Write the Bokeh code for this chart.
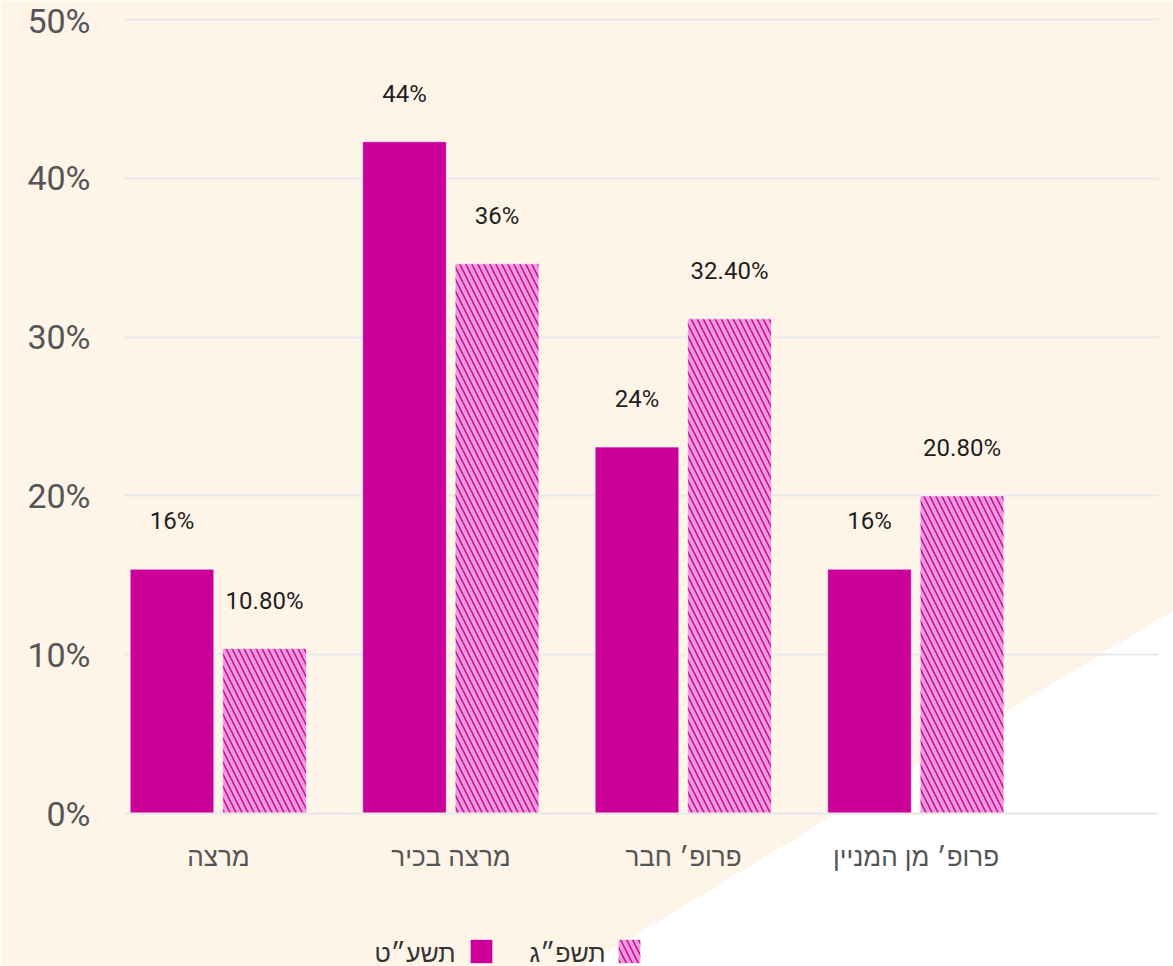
from bokeh.plotting import figure
from bokeh.models import (Range1d, FixedTicker, ColumnDataSource, PolyAnnotation,
                          Legend, LegendItem, Label)
from bokeh.transform import dodge
from bokeh.core.properties import value
from bokeh.embed import file_html
from bokeh.resources import INLINE

# ---------------- data ----------------
categories = ["מרצה", "מרצה בכיר", "פרופ׳ חבר", "פרופ׳ מן המניין"]
series_names = ["תשע״ט", "תשפ״ג"]
values_a = [16, 44, 24, 16]
values_b = [10.8, 36, 32.4, 20.8]
labels_a = ["16%", "44%", "24%", "16%"]
labels_b = ["10.80%", "36%", "32.40%", "20.80%"]
y_ticks = [0, 10.4, 20.8, 31.2, 41.6, 52]
y_tick_labels = ["0%", "10%", "20%", "30%", "40%", "50%"]

# ---------------- style ----------------
CREAM = "#fef4e8"
MAGENTA = "#cc0099"
PINK = "#ec9ad8"
GRID = "#e9e9e9"
NUM_FONT = "Roboto, 'Liberation Sans', sans-serif"
HEB_FONT = "'Liberation Sans', Arial, sans-serif"

idx = list(range(len(categories)))
src_a = ColumnDataSource(dict(idx=idx, val=values_a, lbl=labels_a))
src_b = ColumnDataSource(dict(idx=idx, val=values_b, lbl=labels_b))

p = figure(width=1173, height=966, output_backend="svg", toolbar_location=None,
           x_range=Range1d(-0.4086, 4.1075), y_range=Range1d(-10.02, 52.59),
           min_border_left=123, min_border_right=0, min_border_top=10,
           min_border_bottom=0)
p.background_fill_color = CREAM
p.border_fill_color = CREAM
p.outline_line_color = None

# white triangle in the lower right corner (decoration, frame-relative px)
p.add_layout(PolyAnnotation(xs=[1127, 397, 1127], ys=[402.5, -38, -38],
                            xs_units="screen", ys_units="screen",
                            fill_color="white", fill_alpha=1, line_color=None,
                            level="image"))
# cover the gridline ends beyond the chart's right end
p.add_layout(PolyAnnotation(xs=[1035, 1057, 1057, 1035], ys=[990, 990, 360, 347],
                            xs_units="screen", ys_units="screen",
                            fill_color=CREAM, fill_alpha=1, line_color=None,
                            level="guide"))
p.add_layout(PolyAnnotation(xs=[1035, 1057, 1057, 1035], ys=[347, 360, -34, -34],
                            xs_units="screen", ys_units="screen",
                            fill_color="white", fill_alpha=1, line_color=None,
                            level="guide"))

r1 = p.vbar(x=dodge("idx", -0.2, range=p.x_range), top="val", width=0.36,
            source=src_a, fill_color=MAGENTA, line_color="white", line_width=1,
            line_alpha=0.6)
r2 = p.vbar(x=dodge("idx", 0.198, range=p.x_range), top="val", width=0.36,
            source=src_b, fill_color=PINK, hatch_pattern="\\", hatch_color=MAGENTA,
            hatch_scale=12, hatch_weight=1.4, line_color="white", line_width=1,
            line_alpha=0.6)

for off, src in ((-0.2, src_a), (0.198, src_b)):
    p.text(x=dodge("idx", off, range=p.x_range), y="val", text="lbl", source=src,
           text_align="center", text_baseline="alphabetic", y_offset=-48,
           text_font=value(NUM_FONT), text_font_size="24px", text_color="#1e1e1e")

# axes
p.xaxis.fixed_location = 0
p.xaxis.bounds = (-0.4086, 4.043)
p.xaxis.ticker = FixedTicker(ticks=idx)
p.xaxis.major_label_overrides = {i: c for i, c in zip(idx, categories)}
p.xaxis.major_label_text_font = HEB_FONT
p.xaxis.major_label_text_font_size = "26px"
p.xaxis.major_label_text_color = "#555555"
p.xaxis.major_label_standoff = 22
p.xaxis.major_tick_line_color = None
p.xaxis.minor_tick_line_color = None
p.xaxis.axis_line_color = GRID
p.xaxis.axis_line_width = 2

p.yaxis.ticker = FixedTicker(ticks=y_ticks)
p.yaxis.major_label_overrides = {t: l for t, l in zip(y_ticks, y_tick_labels)}
p.yaxis.major_label_text_font = NUM_FONT
p.yaxis.major_label_text_font_size = "34px"
p.yaxis.major_label_text_color = "#555555"
p.yaxis.major_label_standoff = 27
p.yaxis.major_tick_line_color = None
p.yaxis.minor_tick_line_color = None
p.yaxis.axis_line_color = None

p.xgrid.grid_line_color = None
p.ygrid.grid_line_color = GRID
p.ygrid.grid_line_width = 2
p.ygrid.bounds = (0, 52.5)

# legend (glyph squares) + texts to their left
legend = Legend(items=[LegendItem(label=" ", renderers=[r1]),
                       LegendItem(label=" ", renderers=[r2])],
                orientation="horizontal", location=(344, 0),
                glyph_width=28, glyph_height=30, label_standoff=0,
                label_width=0, label_height=0, spacing=120, padding=0,
                margin=0, border_line_color=None, background_fill_alpha=0,
                label_text_font_size="1px")
p.add_layout(legend, "center")

for txt, xr in zip(series_names, [332, 482]):
    p.add_layout(Label(x=xr, y=14, x_units="screen", y_units="screen",
                       text=txt, text_align="right", text_baseline="alphabetic",
                       text_font=HEB_FONT, text_font_size="25px",
                       text_color="#333333"))

open("out.html", "w").write(file_html(p, INLINE))
